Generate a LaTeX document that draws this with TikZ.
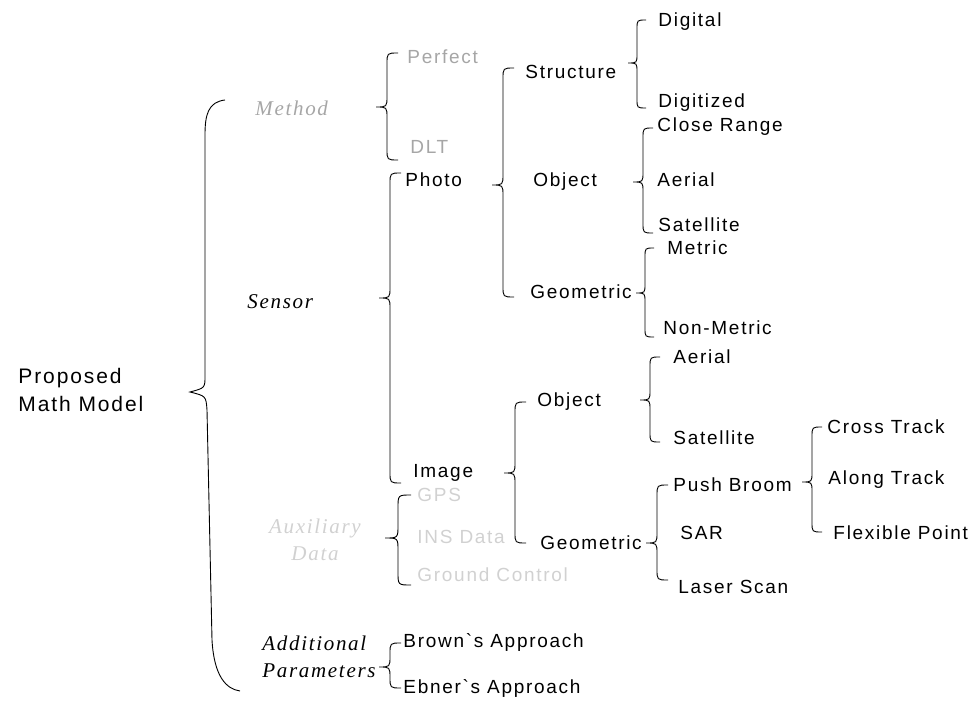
\documentclass[tikz,border=0pt]{standalone}
\usepackage{fontspec}
\usepackage{tikz}
\newfontfamily\treesans{Liberation Sans}[LetterSpace=9]
\newfontfamily\treeserif{Liberation Serif}[LetterSpace=8]

% curly brace: line x, top y, tip y, bottom y, curl size
\newcommand{\brc}[5]{%
  \draw (#1+#5,#2) .. controls (#1,#2) .. (#1,#2+#5)
    -- (#1,#3-#5) .. controls (#1,#3) .. (#1-#5,#3)
    .. controls (#1,#3) .. (#1,#3+#5)
    -- (#1,#4-#5) .. controls (#1,#4) .. (#1+#5,#4);}

\tikzset{
  leaf/.style={anchor=west,inner sep=0pt,font=\treesans\fontsize{19}{22}\selectfont},
  group/.style={anchor=west,inner sep=0pt,align=left,
    font=\treeserif\itshape\fontsize{21}{27}\selectfont},
  dim/.style={text=black!35},
  faint/.style={text=black!18}
}

\begin{document}
\begin{tikzpicture}[x=1pt,y=-1pt,line width=0.9pt]
  \useasboundingbox (0,0) rectangle (972,703);

  % root
  \node[inner sep=0pt,align=left,anchor=west,font=\treesans\fontsize{21}{28}\selectfont]
    (root) at (18,390) {Proposed\\Math Model};
  \draw (225,100) .. controls (208,102) and (205,115) .. (205,135)
    -- (205,376) .. controls (205,388) .. (190,392)
    .. controls (206,396) .. (207,410)
    -- (212,640) .. controls (214,676) and (226,689) .. (240,691);

  % second level
  \node[group,dim] (method) at (255,108) {Method};
  \node[group] (sensor) at (247,302) {Sensor};
  \node[group,faint,align=center,anchor=center] (aux) at (315,540) {Auxiliary\\Data};
  \node[group] (addpar) at (262,657) {Additional\\Parameters};

  % method
  \brc{387}{53}{107}{160}{11}
  \node[leaf,dim] (perfect) at (407,57) {Perfect};
  \node[leaf,dim] (dlt) at (410,147) {DLT};

  % sensor
  \brc{390}{173}{298}{483}{11}
  \node[leaf] (photo) at (405,180) {Photo};
  \node[leaf] (image) at (413,473) {Image};

  % auxiliary data
  \brc{398}{495}{538}{585}{13}
  \node[leaf,faint] (gps) at (417,495) {GPS};
  \node[leaf,faint] (ins) at (417,537) {INS Data};
  \node[leaf,faint] (gcp) at (417,575) {Ground Control};

  % additional parameters
  \brc{390}{643}{667}{688}{11}
  \node[leaf] (brown) at (403,642) {Brown`s Approach};
  \node[leaf] (ebner) at (403,688) {Ebner`s Approach};

  % photo branch
  \brc{503}{68}{185}{297}{11}
  \node[leaf] (structure) at (525,72) {Structure};
  \node[leaf] (objphoto) at (533,182) {Object};
  \node[leaf] (geophoto) at (530,292) {Geometric};

  \brc{637}{20}{63}{108}{9}
  \node[leaf] (digital) at (658,22) {Digital};
  \node[leaf] (digitized) at (658,103) {Digitized};

  \brc{643}{128}{182}{233}{10}
  \node[leaf] (close) at (657,127) {Close Range};
  \node[leaf] (aerialp) at (657,180) {Aerial};
  \node[leaf] (satp) at (658,225) {Satellite};

  \brc{645}{248}{293}{337}{9}
  \node[leaf] (metric) at (667,248) {Metric};
  \node[leaf] (nonmetric) at (663,328) {Non-Metric};

  % image branch
  \brc{515}{402}{473}{543}{11}
  \node[leaf] (objimage) at (537,402) {Object};
  \node[leaf] (geoimage) at (540,543) {Geometric};

  \brc{650}{357}{400}{442}{10}
  \node[leaf] (aeriali) at (673,357) {Aerial};
  \node[leaf] (sati) at (673,438) {Satellite};

  \brc{657}{485}{543}{580}{11}
  \node[leaf] (push) at (673,485) {Push Broom};
  \node[leaf] (sar) at (680,533) {SAR};
  \node[leaf] (laser) at (678,587) {Laser Scan};

  \brc{812}{427}{482}{532}{10}
  \node[leaf] (cross) at (827,427) {Cross Track};
  \node[leaf] (along) at (828,480) {Along Track};
  \node[leaf] (flex) at (833,533) {Flexible Point};
\end{tikzpicture}
\end{document}
